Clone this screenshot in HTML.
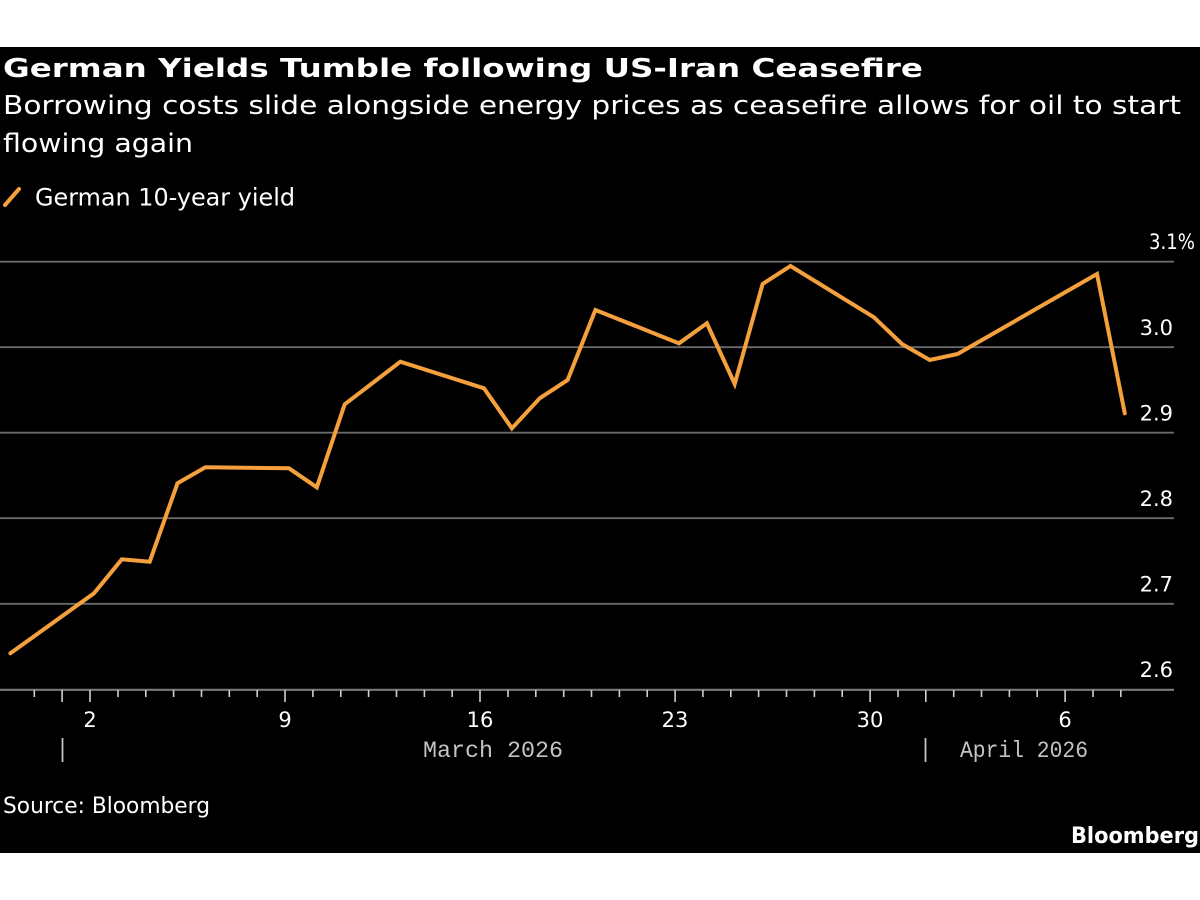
<!DOCTYPE html>
<html>
<head>
<meta charset="utf-8">
<style>
  html, body { margin: 0; padding: 0; background: #ffffff; }
  body { width: 1200px; height: 900px; overflow: hidden; }
  svg { display: block; }
  text { font-family: "DejaVu Sans", "Liberation Sans", sans-serif; fill: #ffffff; }
  .mono { font-family: "Liberation Mono", "DejaVu Sans Mono", monospace; fill: #c4c4c4; }
</style>
</head>
<body>
<svg width="1200" height="900" viewBox="0 0 1200 900" xmlns="http://www.w3.org/2000/svg">
  <rect x="0" y="0" width="1200" height="900" fill="#ffffff"/>
  <rect x="0" y="47" width="1200" height="806" fill="#000000"/>

  <!-- Title / subtitle -->
  <text x="3" y="77" font-size="26" font-weight="bold" textLength="920" lengthAdjust="spacingAndGlyphs">German Yields Tumble following US-Iran Ceasefire</text>
  <text x="3" y="114" font-size="26" textLength="1178" lengthAdjust="spacingAndGlyphs">Borrowing costs slide alongside energy prices as ceasefire allows for oil to start</text>
  <text x="3" y="152" font-size="26" textLength="190" lengthAdjust="spacingAndGlyphs">flowing again</text>

  <!-- Legend -->
  <line x1="5" y1="205" x2="19" y2="189" stroke="#f4a03c" stroke-width="4" stroke-linecap="round"/>
  <text x="35" y="205.5" font-size="24" textLength="260" lengthAdjust="spacingAndGlyphs">German 10-year yield</text>

  <!-- Gridlines -->
  <g stroke="#6a6a6a" stroke-width="1.8">
    <line x1="0" y1="261.7" x2="1174" y2="261.7"/>
    <line x1="0" y1="347.2" x2="1174" y2="347.2"/>
    <line x1="0" y1="432.7" x2="1174" y2="432.7"/>
    <line x1="0" y1="518.2" x2="1174" y2="518.2"/>
    <line x1="0" y1="603.8" x2="1174" y2="603.8"/>
  </g>
  <line x1="0" y1="689.8" x2="1174" y2="689.8" stroke="#7a7a7a" stroke-width="2.2"/>

  <!-- Y labels -->
  <text x="1149" y="249" font-size="21" textLength="46" lengthAdjust="spacingAndGlyphs">3.1%</text>
  <text x="1173" y="335" font-size="21" text-anchor="end">3.0</text>
  <text x="1173" y="420.5" font-size="21" text-anchor="end">2.9</text>
  <text x="1173" y="506" font-size="21" text-anchor="end">2.8</text>
  <text x="1173" y="591.5" font-size="21" text-anchor="end">2.7</text>
  <text x="1173" y="677" font-size="21" text-anchor="end">2.6</text>

  <!-- Ticks -->
  <g stroke="#d0d0d0" stroke-width="1.6">
    <!-- minor ticks -->
    <line x1="34.3" y1="690" x2="34.3" y2="697"/>
    <line x1="118" y1="690" x2="118" y2="697"/>
    <line x1="145.8" y1="690" x2="145.8" y2="697"/>
    <line x1="173.6" y1="690" x2="173.6" y2="697"/>
    <line x1="201.5" y1="690" x2="201.5" y2="697"/>
    <line x1="229.3" y1="690" x2="229.3" y2="697"/>
    <line x1="257.2" y1="690" x2="257.2" y2="697"/>
    <line x1="312.9" y1="690" x2="312.9" y2="697"/>
    <line x1="340.8" y1="690" x2="340.8" y2="697"/>
    <line x1="368.6" y1="690" x2="368.6" y2="697"/>
    <line x1="396.5" y1="690" x2="396.5" y2="697"/>
    <line x1="424.4" y1="690" x2="424.4" y2="697"/>
    <line x1="452.2" y1="690" x2="452.2" y2="697"/>
    <line x1="508" y1="690" x2="508" y2="697"/>
    <line x1="535.8" y1="690" x2="535.8" y2="697"/>
    <line x1="563.7" y1="690" x2="563.7" y2="697"/>
    <line x1="591.5" y1="690" x2="591.5" y2="697"/>
    <line x1="619.4" y1="690" x2="619.4" y2="697"/>
    <line x1="647.2" y1="690" x2="647.2" y2="697"/>
    <line x1="702.9" y1="690" x2="702.9" y2="697"/>
    <line x1="730.8" y1="690" x2="730.8" y2="697"/>
    <line x1="758.6" y1="690" x2="758.6" y2="697"/>
    <line x1="786.5" y1="690" x2="786.5" y2="697"/>
    <line x1="814.4" y1="690" x2="814.4" y2="697"/>
    <line x1="842.2" y1="690" x2="842.2" y2="697"/>
    <line x1="898" y1="690" x2="898" y2="697"/>
    <line x1="953.7" y1="690" x2="953.7" y2="697"/>
    <line x1="981.5" y1="690" x2="981.5" y2="697"/>
    <line x1="1009.4" y1="690" x2="1009.4" y2="697"/>
    <line x1="1037.2" y1="690" x2="1037.2" y2="697"/>
    <line x1="1093" y1="690" x2="1093" y2="697"/>
    <line x1="1120.8" y1="690" x2="1120.8" y2="697"/>
    <!-- major ticks -->
    <line x1="62.1" y1="690" x2="62.1" y2="702"/>
    <line x1="90" y1="690" x2="90" y2="702"/>
    <line x1="285" y1="690" x2="285" y2="702"/>
    <line x1="480" y1="690" x2="480" y2="702"/>
    <line x1="675.1" y1="690" x2="675.1" y2="702"/>
    <line x1="870.1" y1="690" x2="870.1" y2="702"/>
    <line x1="925.8" y1="690" x2="925.8" y2="702"/>
    <line x1="1065.1" y1="690" x2="1065.1" y2="702"/>
  </g>

  <!-- X labels -->
  <g font-size="21" text-anchor="middle">
    <text x="90" y="727">2</text>
    <text x="285" y="727">9</text>
    <text x="480" y="727">16</text>
    <text x="675" y="727">23</text>
    <text x="870" y="727">30</text>
    <text x="1065" y="727">6</text>
  </g>
  <line x1="62.5" y1="738" x2="62.5" y2="762" stroke="#c4c4c4" stroke-width="1.8"/>
  <line x1="925.5" y1="738" x2="925.5" y2="762" stroke="#c4c4c4" stroke-width="1.8"/>
  <text class="mono" x="423" y="757" font-size="23" textLength="140" lengthAdjust="spacingAndGlyphs">March 2026</text>
  <text class="mono" x="960" y="757" font-size="23" textLength="128" lengthAdjust="spacingAndGlyphs">April 2026</text>

  <!-- Series -->
  <polyline fill="none" stroke="#f4a03c" stroke-width="4" stroke-linejoin="miter" stroke-linecap="round"
    points="10.4,653.3 94,593.3 121.8,559.3 149.7,561.7 177.5,483.3 205.4,467.3 289,468.3 316.8,487.3 344.7,404.3 372.6,383 400.4,361.7 484,388.3 511.9,428.3 539.7,398.3 567.6,380 595.4,310 679,343.3 706.9,323.3 734.7,384 762.6,284 790.5,266 874,317.3 901.9,344 929.8,360 957.6,354 1097,274 1124.8,413.3"/>

  <!-- Footer -->
  <text x="3" y="813" font-size="22" textLength="207" lengthAdjust="spacingAndGlyphs">Source: Bloomberg</text>
  <text x="1071" y="843" font-size="22" font-weight="bold" textLength="128" lengthAdjust="spacingAndGlyphs">Bloomberg</text>
</svg>
</body>
</html>
